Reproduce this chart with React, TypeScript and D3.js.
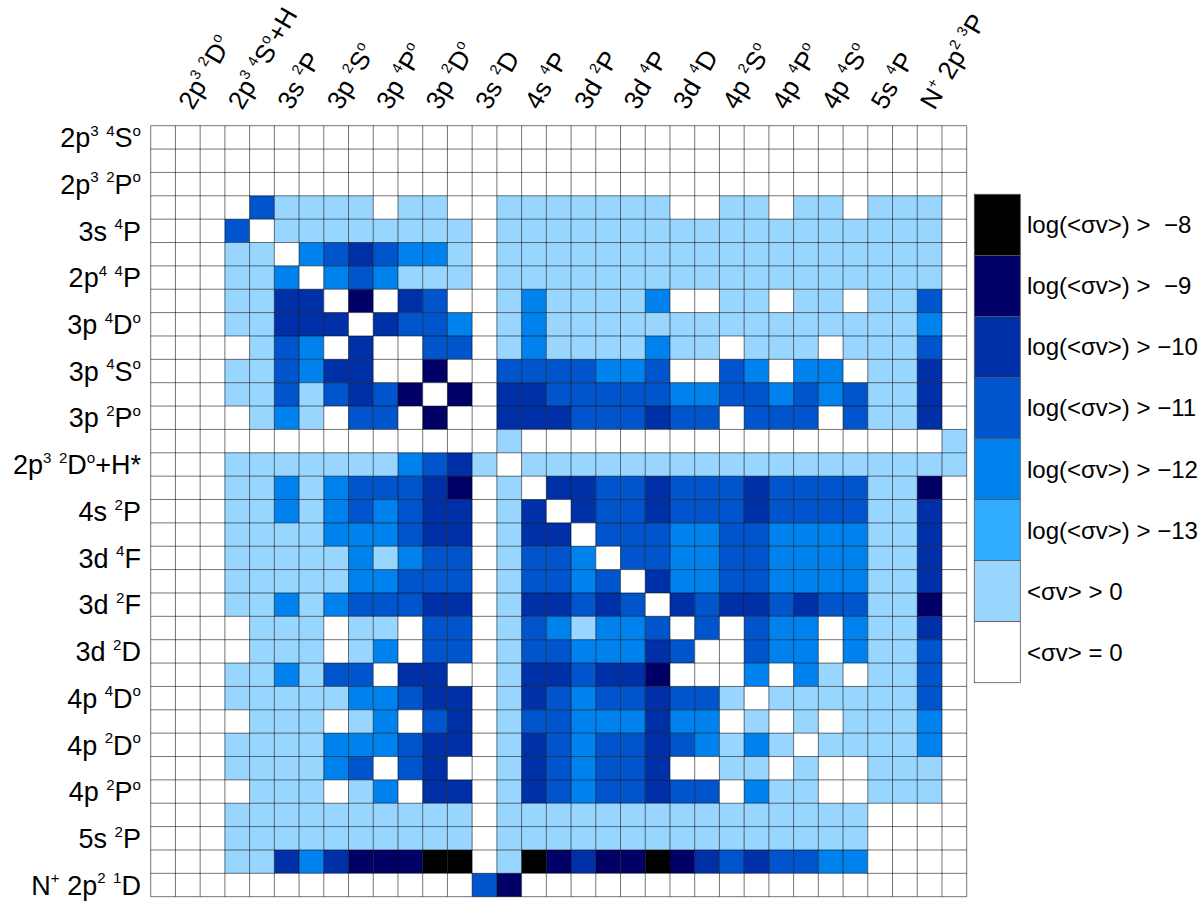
import React, { useEffect, useRef } from "react";
import * as d3 from "d3";

// level states, in energy order; {..} marks a superscript
const states = [
  "2p{3} {4}S{o}", "2p{3} {2}D{o}", "2p{3} {2}P{o}", "2p{3} {4}S{o}+H",
  "3s {4}P", "3s {2}P", "2p{4} {4}P", "3p {2}S{o}", "3p {4}D{o}", "3p {4}P{o}",
  "3p {4}S{o}", "3p {2}D{o}", "3p {2}P{o}", "3s {2}D", "2p{3} {2}D{o}+H*",
  "4s {4}P", "4s {2}P", "3d {2}P", "3d {4}F", "3d {4}P", "3d {2}F", "3d {4}D",
  "3d {2}D", "4p {2}S{o}", "4p {4}D{o}", "4p {4}P{o}", "4p {2}D{o}", "4p {4}S{o}",
  "4p {2}P{o}", "5s {4}P", "5s {2}P", "N{+} 2p{2} {3}P", "N{+} 2p{2} {1}D",
];

// rate class bins: 0 = zero, 1 = >0, 2..7 = log(<σv>) > -13 .. -8
const binLabels = [
  "<σv> = 0", "<σv> > 0", "log(<σv>) > −13", "log(<σv>) > −12",
  "log(<σv>) > −11", "log(<σv>) > −10", "log(<σv>) >  −9", "log(<σv>) >  −8",
];
const binColors = [
  "#ffffff", "#99d6ff", "#30adff", "#0082ee", "#0055cc", "#0030a8", "#000066", "#000000",
];

// one string per row (initial state), one digit per column (final state)
const rates = [
  "000000000000000000000000000000000",
  "000000000000000000000000000000000",
  "000000000000000000000000000000000",
  "000041111011001111111001101101110",
  "000401111111101111111111111111110",
  "000110345433101111111111111111110",
  "000113034311101111111111111111110",
  "000115506054001311113001101101140",
  "000115550544301311111111111111130",
  "000014305004401311113110111011140",
  "000114355006004444334004303301150",
  "000114145460605544444334434341150",
  "000013104406005554445440444041150",
  "000000000000001000000000000000001",
  "000111111134510111111111111111111",
  "000113134445601055445444544441160",
  "000113134345501505445444544441150",
  "000111133345501550444334433331150",
  "000111113134401443044334433331150",
  "000111113344401443405334433331150",
  "000113134445501554540545545441160",
  "000011101104401431334040433031150",
  "000011101304401443335400433031140",
  "000113144055001554556000303101140",
  "000111113345501543445441011111140",
  "000011101304501443335330101011130",
  "000111133345501543445431310111130",
  "000111134045001543445001101001110",
  "000011101305501543445440311001110",
  "000111111111101111111111111110000",
  "000111111111101111111111111110000",
  "000115356667701765667654544330000",
  "000000000000046000000000000000000",
];

const font = "'Liberation Sans', Arial, Helvetica, sans-serif";

function writeLabel(text: any, spec: string, size: number) {
  const parts = spec.split(/(\{[^}]*\})/).filter((s) => s.length);
  let raised = false;
  parts.forEach((p) => {
    const sup = p.startsWith("{");
    const t = text
      .append("tspan")
      .text(sup ? p.slice(1, -1) : p)
      .attr("font-size", sup ? size * 0.56 : size);
    if (sup && !raised) {
      t.attr("dy", -size * 0.42);
      raised = true;
    } else if (!sup && raised) {
      t.attr("dy", size * 0.42);
      raised = false;
    }
  });
}

export default function App() {
  const ref = useRef<SVGSVGElement>(null);

  useEffect(() => {
    const svg = d3.select(ref.current);
    svg.selectAll("*").remove();
    const n = states.length;
    const x = d3.scaleBand<number>().domain(d3.range(n)).range([150.7, 966.7]);
    const y = d3.scaleBand<number>().domain(d3.range(n)).range([125.7, 896.7]);
    const color = d3
      .scaleOrdinal<number, string>()
      .domain(d3.range(binColors.length))
      .range(binColors);

    const cells = rates.flatMap((row, i) =>
      row.padEnd(n, "0").split("").slice(0, n).map((v, j) => ({ i, j, v: +v }))
    );

    svg
      .append("g")
      .selectAll("rect")
      .data(cells)
      .join("rect")
      .attr("x", (d) => x(d.j)!)
      .attr("y", (d) => y(d.i)!)
      .attr("width", x.bandwidth())
      .attr("height", y.bandwidth())
      .attr("fill", (d) => color(d.v));

    // grid lines
    const grid = svg.append("g").attr("stroke", "#000").attr("stroke-opacity", 0.55);
    d3.range(n + 1).forEach((k) => {
      const xx = 150.7 + k * x.bandwidth();
      const yy = 125.7 + k * y.bandwidth();
      grid.append("line").attr("x1", xx).attr("x2", xx).attr("y1", 125.7).attr("y2", 896.7);
      grid.append("line").attr("x1", 150.7).attr("x2", 966.7).attr("y1", yy).attr("y2", yy);
    });

    // row labels (even states)
    const rowSize = 27;
    const rowG = svg.append("g").attr("font-family", font).attr("fill", "#000");
    d3.range(0, n, 2).forEach((i) => {
      const t = rowG
        .append("text")
        .attr("x", 141)
        .attr("y", y(i)! + y.bandwidth() / 2 + rowSize * 0.36)
        .attr("text-anchor", "end")
        .style("white-space", "pre");
      writeLabel(t, states[i], rowSize);
    });

    // column labels (odd states)
    const colG = svg.append("g").attr("font-family", font).attr("fill", "#000");
    d3.range(1, n, 2).forEach((j) => {
      const t = colG
        .append("text")
        .attr("transform", `translate(${x(j)! + x.bandwidth() / 2 + 5},111) rotate(-60)`)
        .style("white-space", "pre");
      writeLabel(t, states[j], 26);
    });

    // legend
    const ly = d3.scaleBand<number>().domain(d3.range(8)).range([194.3, 682.7]);
    const leg = svg.append("g");
    d3.range(8).forEach((k) => {
      const b = 7 - k;
      leg
        .append("rect")
        .attr("x", 974.3)
        .attr("y", ly(k)!)
        .attr("width", 46)
        .attr("height", ly.bandwidth())
        .attr("fill", binColors[b])
        .attr("stroke", "#555")
        .attr("stroke-width", 0.8);
      leg
        .append("text")
        .attr("x", 1027)
        .attr("y", ly(k)! + ly.bandwidth() / 2 + 8.5)
        .attr("font-family", font)
        .attr("font-size", 24)
        .style("white-space", "pre")
        .text(binLabels[b]);
    });
  }, []);

  return (
    <div style={{ position: "absolute", left: 0, top: 0 }}>
      <svg ref={ref} width={1200} height={904} style={{ background: "#fff" }} />
    </div>
  );
}
